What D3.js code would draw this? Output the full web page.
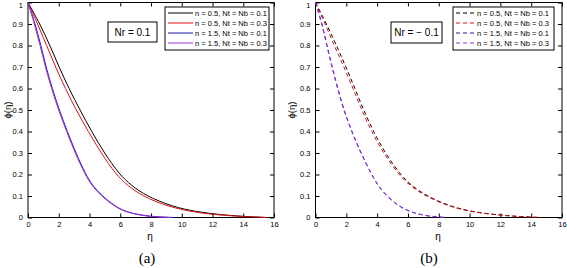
<!DOCTYPE html>
<html>
<head>
<meta charset="utf-8">
<script src="https://cdn.jsdelivr.net/npm/d3@7"></script>
<style>
  body { margin: 0; background: #fff; }
  svg { display: block; font-family: "Liberation Sans", Arial, sans-serif; }
  .tick line { stroke: #000; }
  .tick text { font-size: 7.5px; fill: #000; }
</style>
</head>
<body>
<div id="chart"></div>
<script>
// values, [eta, phi]
const etaTicks = [0, 2, 4, 6, 8, 10, 12, 14, 16];
const phiTicks = [0, 0.1, 0.2, 0.3, 0.4, 0.5, 0.6, 0.7, 0.8, 0.9, 1];
const legendLabels = ["n = 0.5, Nt = Nb = 0.1", "n = 0.5, Nt = Nb = 0.3",
                      "n = 1.5, Nt = Nb = 0.1", "n = 1.5, Nt = Nb = 0.3"];
const colors = ["#000000", "#e01010", "#1a1aa8", "#a030d8"];
const panelNames = ["(a)", "(b)"];
const nrLabels = ["Nr = 0.1", "Nr = \u2212 0.1"];

// panel (a), Nr = 0.1
const blackA  = [[0,1],[0.78,0.9],[1.43,0.8],[2.02,0.7],[2.66,0.6],[3.38,0.5],[4.14,0.4],[4.96,0.3],[5.95,0.2],[6.7,0.15],[7.7,0.1],[9.4,0.05],[11,0.026],[12.5,0.013],[14,0.005],[15.5,0]];
const redA    = [[0,1],[0.63,0.9],[1.21,0.8],[1.79,0.7],[2.43,0.6],[3.13,0.5],[3.92,0.4],[4.75,0.3],[5.72,0.2],[6.45,0.15],[7.42,0.1],[9.1,0.05],[11,0.022],[12.5,0.011],[14,0.004],[15.5,0]];
const blueA   = [[0,1],[0.47,0.9],[0.84,0.8],[1.17,0.7],[1.58,0.6],[2.03,0.5],[2.56,0.4],[3.11,0.3],[3.76,0.2],[4.18,0.15],[4.82,0.1],[5.7,0.05],[6.4,0.026],[7.3,0.011],[8.3,0.003],[9.5,0]];
const purpleA = [[0,1],[0.42,0.9],[0.79,0.8],[1.12,0.7],[1.53,0.6],[1.98,0.5],[2.51,0.4],[3.06,0.3],[3.71,0.2],[4.13,0.15],[4.77,0.1],[5.65,0.05],[6.35,0.026],[7.25,0.011],[8.2,0.003],[9.3,0]];

// panel (b), Nr = -0.1
const blackB  = [[0,1],[0.72,0.9],[1.36,0.8],[1.98,0.7],[2.56,0.6],[3.12,0.5],[3.76,0.4],[4.52,0.3],[5.5,0.2],[6.2,0.15],[7.2,0.1],[8.8,0.05],[10.3,0.025],[12,0.011],[13.3,0.004],[14.6,0]];
const redB    = [[0,1],[0.63,0.9],[1.21,0.8],[1.85,0.7],[2.43,0.6],[3.0,0.5],[3.63,0.4],[4.4,0.3],[5.4,0.2],[6.1,0.15],[7.1,0.1],[8.7,0.05],[10.2,0.025],[12,0.01],[13.3,0.004],[14.6,0]];
const blueB   = [[0,1],[0.22,0.95],[0.43,0.9],[0.75,0.8],[1.08,0.7],[1.45,0.6],[1.84,0.5],[2.36,0.4],[2.95,0.3],[3.65,0.2],[4.05,0.15],[4.62,0.1],[5.45,0.05],[6.3,0.022],[7.3,0.006],[8.5,0]];
const purpleB = [[0,1],[0.2,0.95],[0.41,0.9],[0.73,0.8],[1.06,0.7],[1.43,0.6],[1.82,0.5],[2.34,0.4],[2.93,0.3],[3.63,0.2],[4.03,0.15],[4.6,0.1],[5.43,0.05],[6.28,0.022],[7.25,0.006],[8.4,0]];

const panels = [
  { left: 28,    right: 274, series: [blackA, redA, blueA, purpleA], dash: null,
    nrBox: [108, 22, 49, 20], legBox: [165, 7, 104, 43], lineLen: 25, labelX: 150, ylabX: 8 },
  { left: 315.5, right: 562, series: [blackB, redB, blueB, purpleB], dash: "4,3",
    nrBox: [391, 22, 51, 21], legBox: [453, 7, 101, 43], lineLen: 19, labelX: 438, ylabX: 292 }
];

const plotTop = 2.5, plotBottom = 217.5;

const svg = d3.select("#chart").append("svg")
  .attr("width", 567).attr("height", 268);

panels.forEach(function(p, pi) {
  const x = d3.scaleLinear().domain([0, 16]).range([p.left, p.right]);
  const y = d3.scaleLinear().domain([0, 1]).range([plotBottom, plotTop]);
  const g = svg.append("g");

  // axes with inward ticks on all four sides
  g.append("g").attr("transform", `translate(0,${plotBottom})`)
    .call(d3.axisBottom(x).tickValues(etaTicks).tickSizeInner(-4).tickSizeOuter(0).tickPadding(4))
    .call(s => s.select(".domain").remove());
  g.append("g").attr("transform", `translate(0,${plotTop})`)
    .call(d3.axisTop(x).tickValues(etaTicks).tickSizeInner(-4).tickSizeOuter(0).tickFormat(""))
    .call(s => s.select(".domain").remove());
  g.append("g").attr("transform", `translate(${p.left},0)`)
    .call(d3.axisLeft(y).tickValues(phiTicks).tickSizeInner(-4).tickSizeOuter(0).tickPadding(5)
      .tickFormat(d => (d === 0 || d === 1) ? d : d.toFixed(1)))
    .call(s => s.select(".domain").remove())
    .call(s => s.selectAll(".tick text").filter(d => d === 1).attr("dy", "0.6em"));
  g.append("g").attr("transform", `translate(${p.right},0)`)
    .call(d3.axisRight(y).tickValues(phiTicks).tickSizeInner(-4).tickSizeOuter(0).tickFormat(""))
    .call(s => s.select(".domain").remove());

  g.append("rect")
    .attr("x", p.left).attr("y", plotTop)
    .attr("width", p.right - p.left).attr("height", plotBottom - plotTop)
    .attr("fill", "none").attr("stroke", "#000").attr("stroke-width", 1);

  const line = d3.line()
    .x(d => x(d[0])).y(d => y(d[1]))
    .curve(d3.curveBasis);

  p.series.forEach(function(s, i) {
    g.append("path")
      .datum(s)
      .attr("d", line)
      .attr("fill", "none")
      .attr("stroke", colors[i])
      .attr("stroke-width", 1)
      .attr("stroke-dasharray", p.dash);
  });

  // Nr box
  g.append("rect")
    .attr("x", p.nrBox[0]).attr("y", p.nrBox[1])
    .attr("width", p.nrBox[2]).attr("height", p.nrBox[3])
    .attr("fill", "#fff").attr("stroke", "#000");
  g.append("text")
    .attr("x", p.nrBox[0] + p.nrBox[2] / 2).attr("y", p.nrBox[1] + p.nrBox[3] / 2 + 3.5)
    .attr("text-anchor", "middle").style("font-size", "10px")
    .text(nrLabels[pi]);

  // legend
  const lb = p.legBox;
  g.append("rect")
    .attr("x", lb[0]).attr("y", lb[1]).attr("width", lb[2]).attr("height", lb[3])
    .attr("fill", "#fff").attr("stroke", "#000");
  legendLabels.forEach(function(t, i) {
    const ly = lb[1] + 6 + i * 10;
    g.append("line")
      .attr("x1", lb[0] + 3).attr("x2", lb[0] + 3 + p.lineLen)
      .attr("y1", ly).attr("y2", ly)
      .attr("stroke", colors[i]).attr("stroke-width", 1)
      .attr("stroke-dasharray", p.dash);
    g.append("text")
      .attr("x", lb[0] + 5 + p.lineLen).attr("y", ly + 2.7)
      .style("font-size", "7.5px")
      .text(t);
  });

  // axis labels
  g.append("text")
    .attr("x", p.labelX).attr("y", 240)
    .attr("text-anchor", "middle").style("font-size", "10px")
    .text("\u03b7");
  g.append("text")
    .attr("transform", `translate(${p.ylabX + 3},110) rotate(-90)`)
    .attr("text-anchor", "middle").style("font-size", "9.5px")
    .text("\u03d5(\u03b7)");

  g.append("text")
    .attr("x", pi === 0 ? 147 : 429).attr("y", 263)
    .attr("text-anchor", "middle")
    .style("font-family", "'Liberation Serif', 'DejaVu Serif', serif")
    .style("font-size", "15px")
    .text(panelNames[pi]);
});
</script>
</body>
</html>
